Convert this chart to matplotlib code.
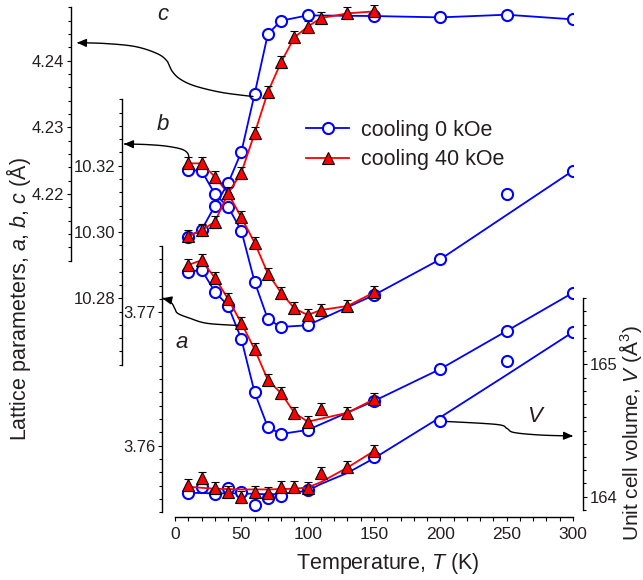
import numpy as np
import matplotlib
matplotlib.use("Agg")
import matplotlib.pyplot as plt
from matplotlib.lines import Line2D
from matplotlib.patches import FancyArrowPatch
from matplotlib.path import Path
from matplotlib.ticker import FixedLocator

plt.rcParams["font.family"] = ["Liberation Sans", "DejaVu Sans"]
plt.rcParams["mathtext.fontset"] = "custom"
plt.rcParams["mathtext.rm"] = "Liberation Sans"
plt.rcParams["mathtext.it"] = "Liberation Sans:italic"

# temperatures (K)
T0 = [10, 20, 30, 40, 50, 60, 70, 80, 100, 150, 200, 250, 300]   # cooling 0 kOe
T40 = [10, 20, 30, 40, 50, 60, 70, 80, 90, 100, 110, 130, 150]   # cooling 40 kOe

# lattice parameter c (A)
c0 = [4.2136, 4.2146, 4.2182, 4.2216, 4.2263, 4.2350, 4.2440, 4.2460, 4.2468, 4.2467, 4.2465, 4.2469, 4.2462]
c40 = [4.2137, 4.2146, 4.2158, 4.2201, 4.2232, 4.2291, 4.2353, 4.2398, 4.2435, 4.2451, 4.2464, 4.2471, 4.2474]

# lattice parameter b (A)
b0 = [10.3187, 10.3185, 10.3115, 10.3076, 10.3004, 10.2850, 10.2737, 10.2714, 10.2719, 10.2810, 10.2918, 10.3114, 10.3185]
b40 = [10.3207, 10.3207, 10.3167, 10.3117, 10.3044, 10.2968, 10.2875, 10.2817, 10.2770, 10.2750, 10.2765, 10.2777, 10.2818]

# lattice parameter a (A)
a0 = [3.7730, 3.7732, 3.77154, 3.7705, 3.7680, 3.7640, 3.76138, 3.76088, 3.76118, 3.76335, 3.76575, 3.7686, 3.77147]
a40 = [3.77355, 3.7739, 3.7726, 3.7710, 3.7692, 3.76723, 3.76492, 3.76393, 3.76247, 3.7618, 3.76275, 3.76247, 3.76348]

# unit cell volume (A^3)
V0 = [164.026, 164.076, 164.020, 164.068, 164.033, 163.937, 163.988, 164.005, 164.051, 164.302, 164.574, 165.025, 165.244]
V40 = [164.088, 164.139, 164.063, 164.038, 164.000, 164.038, 164.026, 164.071, 164.071, 164.063, 164.181, 164.227, 164.345]

# guide curves for V
V0_fit_T = [10, 30, 50, 70, 80, 100, 110, 130, 150, 200, 250, 300]
V0_fit = [164.03, 164.025, 164.025, 164.018, 164.02, 164.045, 164.096, 164.18, 164.29, 164.60, 164.92, 165.244]
V40_fit_T = [10, 30, 50, 70, 90, 100, 110, 130, 150]
V40_fit = [164.075, 164.06, 164.055, 164.055, 164.06, 164.07, 164.11, 164.22, 164.345]

# points the guide lines pass by
b0_skip = [250]
a40_skip = [110]

# error bars on the 40 kOe points
c40_err = 0.0009
b40_err = 0.0018
a40_err = 0.00045
V40_err = 0.045

W, H = 643, 580
X0, X1, YT, YB = 175, 573, 5, 516.7
BLUE = "#0000ff"
RED = "#ff0000"
INK = "#231f20"

fig = plt.figure(figsize=(W / 100, H / 100), dpi=100)
ax_a = fig.add_axes([X0 / W, 1 - YB / H, (X1 - X0) / W, (YB - YT) / H])
ax_b = ax_a.twinx()
ax_c = ax_a.twinx()
ax_v = ax_a.twinx()


def px_ylim(ax, v0, y0, v1, y1):
    s = (y1 - y0) / (v0 - v1)
    ax.set_ylim(v0 - (YB - y0) / s, v0 + (y0 - YT) / s)


def style_y(ax, side, x_px, lo, hi, major, minor_step):
    for k in ax.spines:
        ax.spines[k].set_visible(False)
    sp = ax.spines[side]
    sp.set_visible(True)
    sp.set_linewidth(1.0)
    sp.set_position(("axes", (x_px - X0) / (X1 - X0)))
    sp.set_bounds(lo, hi)
    ax.yaxis.set_ticks_position(side)
    ax.yaxis.set_major_locator(FixedLocator(major))
    n = int(round((hi - lo) / minor_step))
    ax.yaxis.set_minor_locator(FixedLocator(lo + minor_step * np.arange(n + 1)))
    ax.tick_params(axis="y", which="major", direction="out", length=3.2, width=0.8,
                   pad=1.5, labelsize=12, labelcolor=INK)
    ax.tick_params(axis="y", which="minor", direction="out", length=2.4, width=0.8)


def draw(ax, T, y, Tf, yf, kind, err=None):
    if kind == "0":
        ax.plot(Tf, yf, color=BLUE, lw=1.3, zorder=2)
        ax.plot(T, y, ls="none", marker="o", ms=8, mfc="white", mec=BLUE, mew=1.5, zorder=3)
    else:
        ax.plot(Tf, yf, color=RED, lw=1.3, zorder=4)
        ax.errorbar(T, y, yerr=err, fmt="none", ecolor="black", elinewidth=0.7,
                    capsize=3, capthick=0.8, zorder=5)
        ax.plot(T, y, ls="none", marker="^", ms=9, mfc=RED, mec="black", mew=0.8, zorder=6)


def kept(T, y, skip):
    pairs = [(t, v) for t, v in zip(T, y) if t not in skip]
    return [p[0] for p in pairs], [p[1] for p in pairs]


# a on the host axes
draw(ax_a, T0, a0, T0, a0, "0")
draw(ax_a, T40, a40, *kept(T40, a40, a40_skip), "40", a40_err)
# b
draw(ax_b, T0, b0, *kept(T0, b0, b0_skip), "0")
draw(ax_b, T40, b40, T40, b40, "40", b40_err)
# c
draw(ax_c, T0, c0, T0, c0, "0")
draw(ax_c, T40, c40, T40, c40, "40", c40_err)
# V
draw(ax_v, T0, V0, V0_fit_T, V0_fit, "0")
draw(ax_v, T40, V40, V40_fit_T, V40_fit, "40", V40_err)

ax_a.set_xlim(0, 300)
px_ylim(ax_a, 3.77, 312.3, 3.76, 445.7)
px_ylim(ax_b, 10.32, 165.7, 10.28, 298.4)
px_ylim(ax_c, 4.24, 60.7, 4.22, 194.0)
px_ylim(ax_v, 165, 364.3, 164, 496.7)

style_y(ax_a, "left", 161.7, 3.755, 3.775, [3.76, 3.77], 0.001)
style_y(ax_b, "left", 121.7, 10.26, 10.34, [10.28, 10.30, 10.32], 0.004)
style_y(ax_c, "left", 70.7, 4.210, 4.248, [4.22, 4.23, 4.24], 0.002)
style_y(ax_v, "right", 583.3, 163.9, 165.5, [164, 165], 0.1)
ax_a.yaxis.set_major_formatter(lambda v, p: f"{v:.2f}")
ax_b.yaxis.set_major_formatter(lambda v, p: f"{v:.2f}")
ax_c.yaxis.set_major_formatter(lambda v, p: f"{v:.2f}")
ax_v.yaxis.set_major_formatter(lambda v, p: f"{v:.0f}")

ax_a.spines["bottom"].set_visible(True)
ax_a.spines["bottom"].set_linewidth(1.0)
ax_a.spines["bottom"].set_bounds(0, 300)
ax_a.xaxis.set_major_locator(FixedLocator(np.arange(0, 301, 50)))
ax_a.xaxis.set_minor_locator(FixedLocator(np.arange(0, 301, 10)))
ax_a.tick_params(axis="x", which="major", direction="out", length=3.2, width=0.8,
                 pad=4, labelsize=12.5, labelcolor=INK)
ax_a.tick_params(axis="x", which="minor", direction="out", length=3.2, width=0.8)


def catmull(pts, n=16):
    p = np.asarray(pts, float)
    p = np.vstack([p[0], p, p[-1]])
    out = []
    t = np.linspace(0, 1, n, endpoint=False)[:, None]
    for i in range(1, len(p) - 2):
        p0, p1, p2, p3 = p[i - 1], p[i], p[i + 1], p[i + 2]
        out.append(0.5 * (2 * p1 + (-p0 + p2) * t + (2 * p0 - 5 * p1 + 4 * p2 - p3) * t ** 2
                          + (-p0 + 3 * p1 - 3 * p2 + p3) * t ** 3))
    out.append(p[-2][None])
    return np.vstack(out)


def curved_arrow(pts):
    xy = catmull(pts)
    verts = np.column_stack([xy[:, 0] / W, 1 - xy[:, 1] / H])
    arr = FancyArrowPatch(path=Path(verts), arrowstyle="-|>,head_length=0.55,head_width=0.24",
                          mutation_scale=10, lw=1.0, color="black", transform=fig.transFigure)
    fig.add_artist(arr)


curved_arrow([(253, 96.5), (222, 92.5), (195, 86), (180, 79), (172, 71), (167, 61),
              (157, 53.5), (135, 46.5), (105, 43.5), (77, 42.7)])
curved_arrow([(189, 158), (187.5, 153), (181, 149), (165, 146), (145, 144.5), (124, 144)])
curved_arrow([(238, 325.5), (207, 323.3), (190, 318.3), (178, 313.5), (175, 309),
              (172, 303.5), (167, 299.5), (162.3, 298.3)])
curved_arrow([(447, 421.5), (497, 424.5), (507, 428.5), (514, 432.5), (540, 435), (573, 436)])

for s, x, y in [("c", 163, 15), ("b", 163, 125), ("a", 182, 343), ("V", 535, 417)]:
    fig.text(x / W, 1 - y / H, s, style="italic", fontsize=16, color=INK, ha="center", va="center")

fig.text(19 / W, 1 - 299 / H, r"Lattice parameters, $a$, $b$, $c$ (Å)", rotation=90,
         fontsize=15.5, color=INK, ha="center", va="center")
fig.text(388 / W, 1 - 563 / H, r"Temperature, $T$ (K)", fontsize=15.5, color=INK,
         ha="center", va="center")
fig.text(630 / W, 1 - 433 / H, r"Unit cell volume, $V$ (Å$^3$)", rotation=90,
         fontsize=15, color=INK, ha="center", va="center")

handles = [
    Line2D([], [], color=BLUE, lw=1.3, marker="o", ms=8, mfc="white", mec=BLUE, mew=1.5),
    Line2D([], [], color=RED, lw=1.3, marker="^", ms=9, mfc=RED, mec="black", mew=0.8),
]
leg = fig.legend(handles, ["cooling 0 kOe", "cooling 40 kOe"], loc="upper left",
                 bbox_to_anchor=(306 / W, 1 - 120 / H), frameon=False, fontsize=15.5,
                 handlelength=2.0, handletextpad=0.55, labelspacing=0.38, borderpad=0,
                 borderaxespad=0)
for t in leg.get_texts():
    t.set_color(INK)

fig.savefig("out.png", dpi=100, facecolor="white")
